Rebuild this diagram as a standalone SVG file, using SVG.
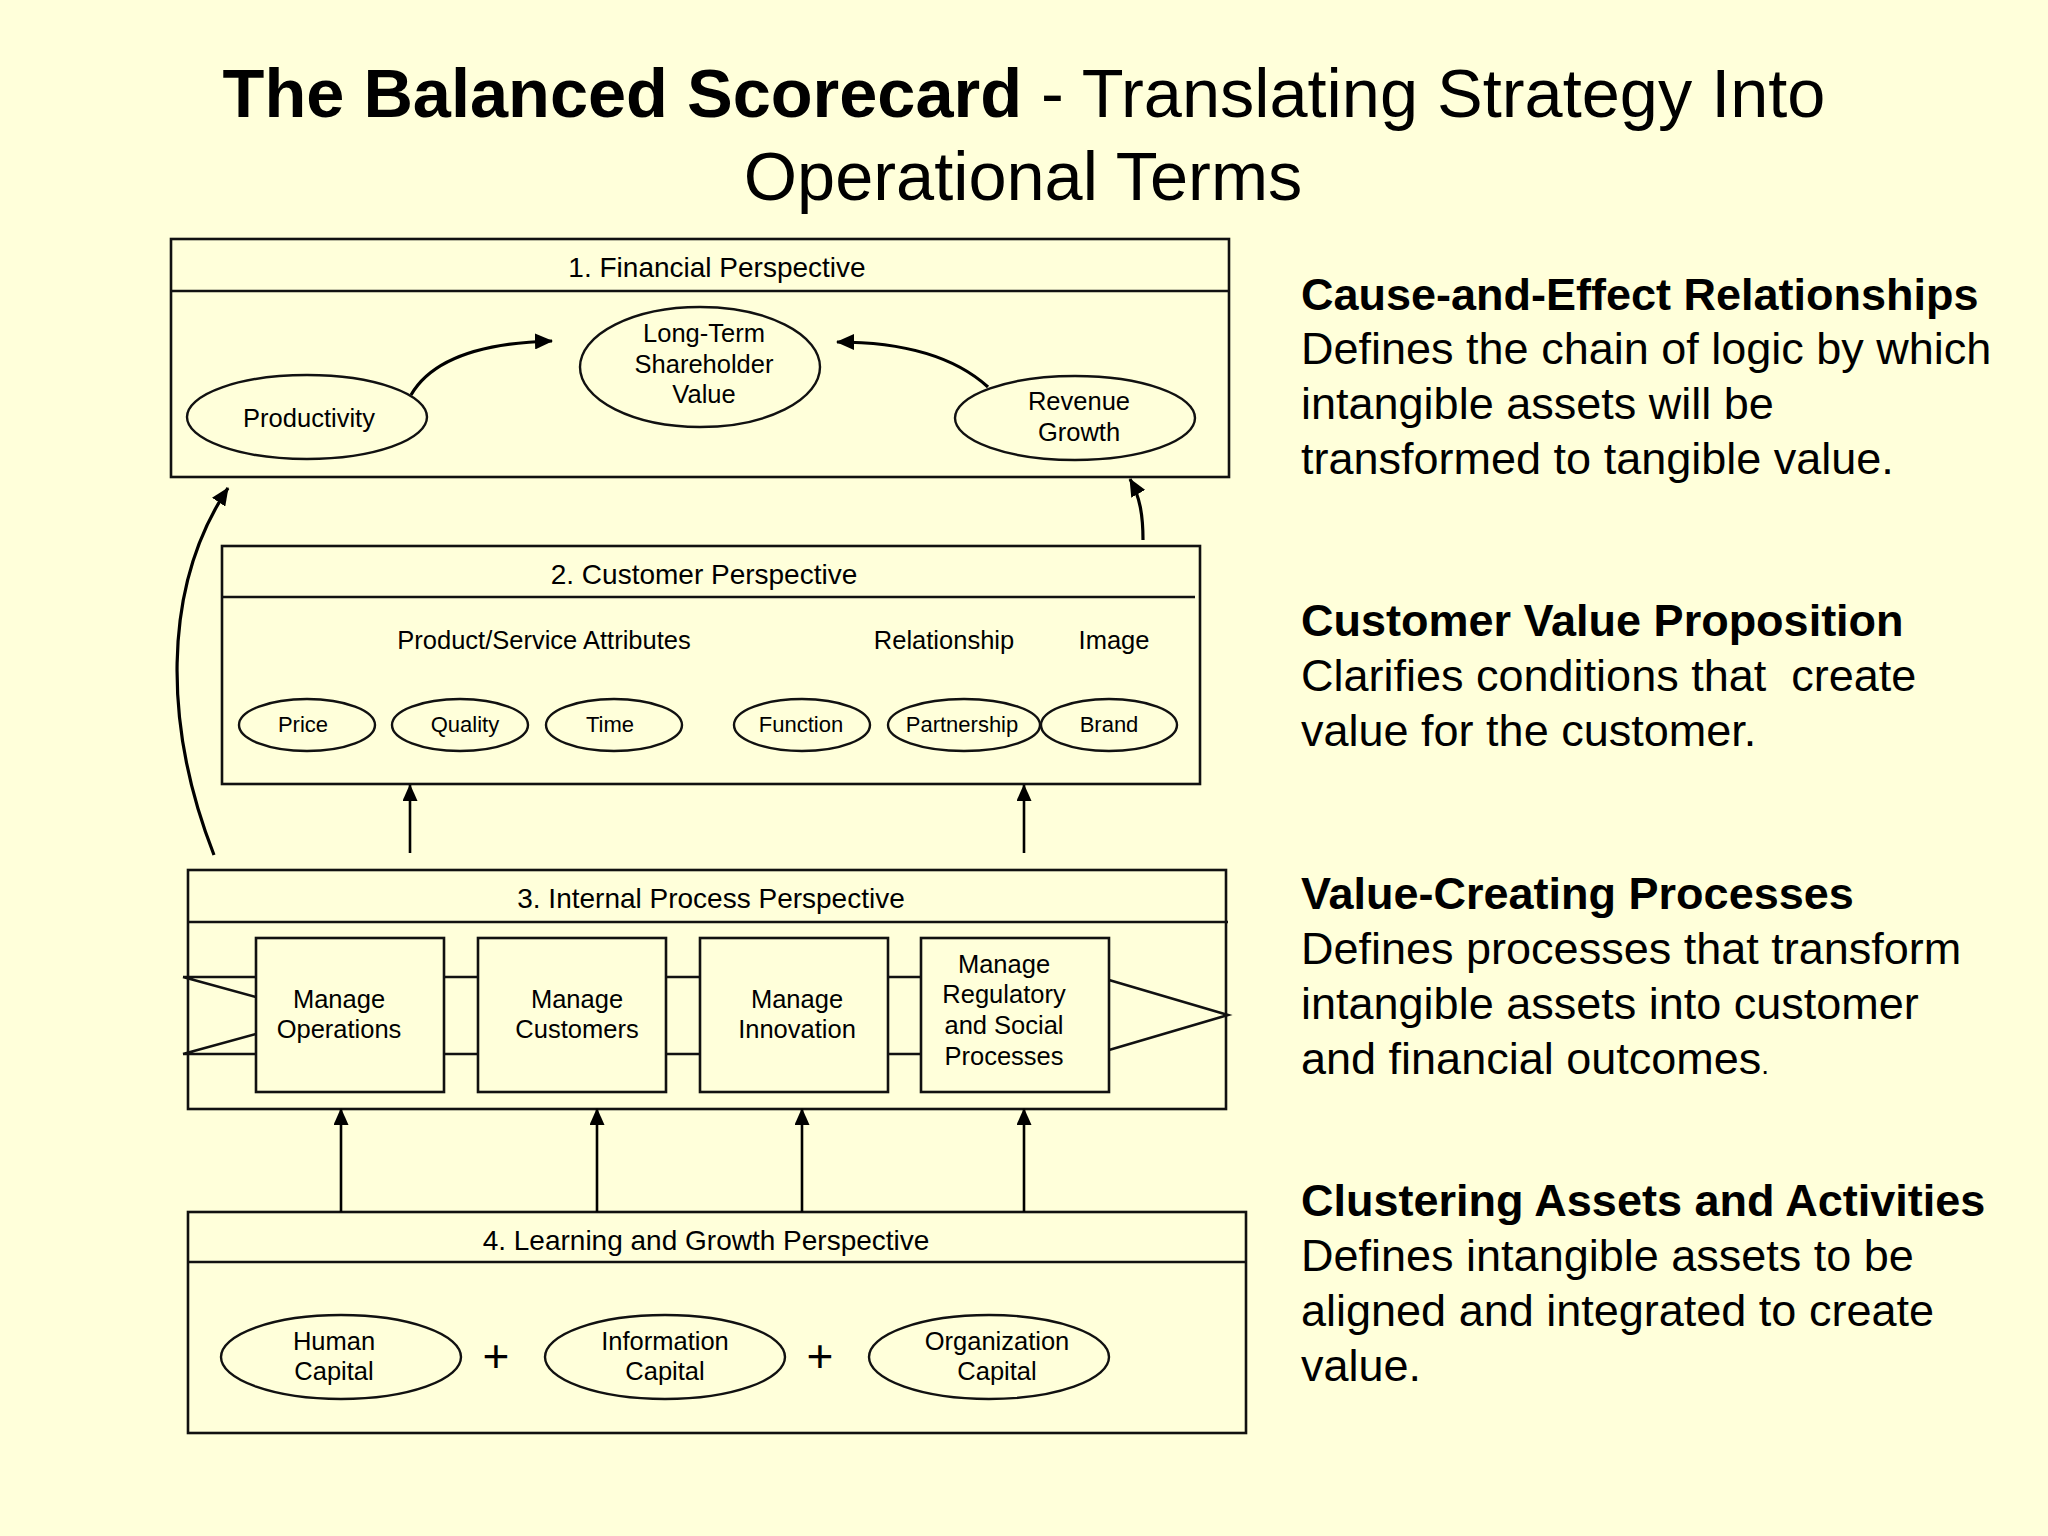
<svg xmlns="http://www.w3.org/2000/svg" width="2048" height="1536" viewBox="0 0 2048 1536">
<defs>
<style>
text{font-family:"Liberation Sans",Arial,Helvetica,sans-serif;fill:#000}
.box{fill:none;stroke:#111;stroke-width:2.6}
.ln{fill:none;stroke:#111;stroke-width:2.6}
.el{fill:none;stroke:#111;stroke-width:2.4}
.hd{font-size:28px;text-anchor:middle}
.nt{font-size:25.5px;text-anchor:middle}
.st{font-size:22px;text-anchor:middle}
.sub{font-size:25.5px;text-anchor:middle}
.arr{fill:none;stroke:#000;stroke-width:3.2;marker-end:url(#ah)}
.arr2{fill:none;stroke:#000;stroke-width:2.6;marker-end:url(#ah2)}
.rh{font-size:45px;font-weight:bold}
.rb{font-size:45px}
.plus{font-size:46px;text-anchor:middle}
</style>
<marker id="ah" viewBox="0 0 18 16" refX="17" refY="8" markerWidth="18" markerHeight="16" orient="auto" markerUnits="userSpaceOnUse"><path d="M0,0 L18,8 L0,16 z" fill="#000"/></marker>
<marker id="ah2" viewBox="0 0 17 15" refX="16" refY="7.5" markerWidth="17" markerHeight="15" orient="auto" markerUnits="userSpaceOnUse"><path d="M0,0 L17,7.5 L0,15 z" fill="#000"/></marker>
</defs>
<rect x="0" y="0" width="2048" height="1536" fill="#FFFFDA"/>

<g id="title">
<text x="1024" y="117" font-size="68.5" text-anchor="middle"><tspan font-weight="bold">The Balanced Scorecard</tspan> - Translating Strategy Into</text>
<text x="1023" y="200" font-size="68.5" text-anchor="middle">Operational Terms</text>
</g>

<g id="financial">
<rect class="box" x="171" y="239" width="1058" height="238"/>
<line class="ln" x1="171" y1="291" x2="1229" y2="291"/>
<text class="hd" x="717" y="277">1. Financial Perspective</text>
</g>
<g id="productivity">
<ellipse class="el" cx="307" cy="417" rx="120" ry="42"/>
<text class="nt" x="309" y="427">Productivity</text>
</g>
<g id="shareholder-value">
<ellipse class="el" cx="700" cy="367" rx="120" ry="60"/>
<text class="nt" x="704" y="342">Long-Term</text>
<text class="nt" x="704" y="373">Shareholder</text>
<text class="nt" x="704" y="403">Value</text>
</g>
<g id="revenue-growth">
<ellipse class="el" cx="1075" cy="418" rx="120" ry="42"/>
<text class="nt" x="1079" y="410">Revenue</text>
<text class="nt" x="1079" y="441">Growth</text>
</g>

<g id="customer">
<rect class="box" x="222" y="546" width="978" height="238"/>
<line class="ln" x1="222" y1="597" x2="1195" y2="597"/>
<text class="hd" x="704" y="584">2. Customer Perspective</text>
<text class="sub" x="544" y="649">Product/Service Attributes</text>
<text class="sub" x="944" y="649">Relationship</text>
<text class="sub" x="1114" y="649">Image</text>
</g>
<g id="price"><ellipse class="el" cx="307" cy="725" rx="68" ry="26"/><text class="st" x="303" y="732">Price</text></g>
<g id="quality"><ellipse class="el" cx="460" cy="725" rx="68" ry="26"/><text class="st" x="465" y="732">Quality</text></g>
<g id="time"><ellipse class="el" cx="614" cy="725" rx="68" ry="26"/><text class="st" x="610" y="732">Time</text></g>
<g id="function"><ellipse class="el" cx="802" cy="725" rx="68" ry="26"/><text class="st" x="801" y="732">Function</text></g>
<g id="partnership"><ellipse class="el" cx="964" cy="725" rx="76" ry="26"/><text class="st" x="962" y="732">Partnership</text></g>
<g id="brand"><ellipse class="el" cx="1109" cy="725" rx="68" ry="26"/><text class="st" x="1109" y="732">Brand</text></g>

<g id="internal">
<rect class="box" x="188" y="870" width="1038" height="239"/>
<line class="ln" x1="188" y1="922" x2="1228" y2="922"/>
<text class="hd" x="711" y="908">3. Internal Process Perspective</text>
</g>
<g id="manage-operations">
<rect class="box" x="256" y="938" width="188" height="154"/>
<text class="nt" x="339" y="1008">Manage</text>
<text class="nt" x="339" y="1038">Operations</text>
</g>
<g id="manage-customers">
<rect class="box" x="478" y="938" width="188" height="154"/>
<text class="nt" x="577" y="1008">Manage</text>
<text class="nt" x="577" y="1038">Customers</text>
</g>
<g id="manage-innovation">
<rect class="box" x="700" y="938" width="188" height="154"/>
<text class="nt" x="797" y="1008">Manage</text>
<text class="nt" x="797" y="1038">Innovation</text>
</g>
<g id="manage-regulatory">
<rect class="box" x="921" y="938" width="188" height="154"/>
<text class="nt" x="1004" y="973">Manage</text>
<text class="nt" x="1004" y="1003">Regulatory</text>
<text class="nt" x="1004" y="1034">and Social</text>
<text class="nt" x="1004" y="1065">Processes</text>
</g>

<g id="learning">
<rect class="box" x="188" y="1212" width="1058" height="221"/>
<line class="ln" x1="188" y1="1262" x2="1246" y2="1262"/>
<text class="hd" x="706" y="1250">4. Learning and Growth Perspective</text>
<text class="plus" x="496" y="1372">+</text>
<text class="plus" x="820" y="1372">+</text>
</g>
<g id="human-capital">
<ellipse class="el" cx="341" cy="1357" rx="120" ry="42"/>
<text class="nt" x="334" y="1350">Human</text>
<text class="nt" x="334" y="1380">Capital</text>
</g>
<g id="information-capital">
<ellipse class="el" cx="665" cy="1357" rx="120" ry="42"/>
<text class="nt" x="665" y="1350">Information</text>
<text class="nt" x="665" y="1380">Capital</text>
</g>
<g id="organization-capital">
<ellipse class="el" cx="989" cy="1357" rx="120" ry="42"/>
<text class="nt" x="997" y="1350">Organization</text>
<text class="nt" x="997" y="1380">Capital</text>
</g>

<g id="connectors">
<path class="arr" d="M411,395 C430,362 475,343 552,341"/>
<path class="arr" d="M988,387 C955,357 905,342 837,342"/>
<path class="arr" d="M1143,540 C1143,515 1140,497 1130,479"/>
<path class="arr" d="M214,855 C165,730 160,590 228,488"/>
<path class="arr2" d="M410,853 V785"/>
<path class="arr2" d="M1024,853 V785"/>
<path class="arr2" d="M341,1212 V1109"/>
<path class="arr2" d="M597,1212 V1109"/>
<path class="arr2" d="M802,1212 V1109"/>
<path class="arr2" d="M1024,1212 V1109"/>
<path class="ln" d="M183,977 H256 M183,977 L256,997 M183,1054 H256 M183,1054 L256,1034"/>
<path class="ln" d="M444,977 H478 M444,1054 H478 M666,977 H700 M666,1054 H700 M888,977 H921 M888,1054 H921"/>
<path class="ln" d="M1109,980 L1228,1015 L1109,1050"/>
</g>

<g id="explanations">
<text class="rh" x="1301" y="310">Cause-and-Effect Relationships</text>
<text class="rb" x="1301" y="364">Defines the chain of logic by which</text>
<text class="rb" x="1301" y="419">intangible assets will be</text>
<text class="rb" x="1301" y="474">transformed to tangible value.</text>
<text class="rh" x="1301" y="636">Customer Value Proposition</text>
<text class="rb" x="1301" y="691" xml:space="preserve">Clarifies conditions that  create</text>
<text class="rb" x="1301" y="746">value for the customer.</text>
<text class="rh" x="1301" y="909">Value-Creating Processes</text>
<text class="rb" x="1301" y="964">Defines processes that transform</text>
<text class="rb" x="1301" y="1019">intangible assets into customer</text>
<text class="rb" x="1301" y="1074">and financial outcomes<tspan font-size="28">.</tspan></text>
<text class="rh" x="1301" y="1216">Clustering Assets and Activities</text>
<text class="rb" x="1301" y="1271">Defines intangible assets to be</text>
<text class="rb" x="1301" y="1326">aligned and integrated to create</text>
<text class="rb" x="1301" y="1381">value.</text>
</g>
</svg>
